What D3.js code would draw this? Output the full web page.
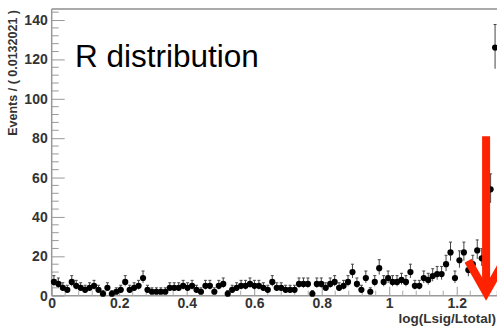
<!DOCTYPE html>
<html>
<head>
<meta charset="utf-8">
<script src="https://cdn.jsdelivr.net/npm/d3@7"></script>
<style>
  body { margin: 0; background: #fff; }
  text { font-family: "Liberation Sans", Arial, sans-serif; }
</style>
</head>
<body>
<script>
// 100 bins of width 0.0132021 on log(Lsig/Ltotal)
const binWidth = 0.0132021;
const counts = [
  7, 6, 4, 3, 7, 5, 4, 3, 4, 5, 3, 1, 4, 1, 2, 3, 7, 3, 4, 5, 9, 3, 2, 2, 2, 2,
  4, 4, 4, 5, 4, 5, 3, 2, 5, 5, 2, 5, 6, 1, 3, 4, 5, 5, 6, 5, 5, 4, 3, 7, 4, 4,
  3, 3, 3, 6, 6, 6, 1, 6, 6, 4, 6, 7, 4, 5, 7, 12, 6, 3, 9, 2, 7, 14, 7, 9, 7, 7,
  8, 7, 12, 5, 5, 9, 8, 10, 11, 11, 16, 22, 9, 18, 22, 13, 16, 23, 19, 25, 54, 126
];
const xTicks = [0, 0.2, 0.4, 0.6, 0.8, 1, 1.2];
const yTicks = [0, 20, 40, 60, 80, 100, 120, 140];
const arrowAt = { x: 1.287, top: 81 };

const w = 497, h = 328;
const padLeft = 51.7, padRight = 497.3, padTop = 9, padBottom = 295.7;

const svg = d3.select("body").append("svg")
    .attr("width", w)
    .attr("height", h);

const xScale = d3.scaleLinear()
    .domain([0, binWidth * counts.length])
    .range([padLeft, padRight]);

const yScale = d3.scaleLinear()
    .domain([0, 145.6])
    .range([padBottom, padTop]);

// frame
svg.append("line")
    .attr("x1", padLeft).attr("x2", w)
    .attr("y1", padTop).attr("y2", padTop)
    .attr("stroke", "#aaa").attr("stroke-width", 2);

// y axis, ticks pointing into the plot
const yAxis = d3.axisRight(yScale)
    .tickValues(yTicks)
    .tickSize(13)
    .tickFormat(d3.format("d"));
const gy = svg.append("g")
    .attr("transform", "translate(" + padLeft + ",0)")
    .call(yAxis);
gy.select(".domain").attr("stroke", "#999").attr("stroke-width", 1.5)
    .attr("d", "M0," + padTop + "V" + padBottom);
gy.selectAll(".tick line").attr("stroke", "#999");
gy.selectAll(".tick text")
    .attr("x", -4)
    .attr("text-anchor", "end")
    .attr("font-size", 14)
    .attr("font-weight", "bold")
    .attr("fill", "#333");

const yMinor = d3.range(0, 145, 4).filter(v => v % 20 !== 0);
svg.append("g").selectAll("line")
    .data(yMinor)
    .enter()
    .append("line")
    .attr("x1", padLeft).attr("x2", padLeft + 7)
    .attr("y1", d => yScale(d)).attr("y2", d => yScale(d))
    .attr("stroke", "#999");

// x axis, ticks pointing up
const xAxis = d3.axisTop(xScale)
    .tickValues(xTicks)
    .tickSize(9)
    .tickFormat(d => String(d));
const gx = svg.append("g")
    .attr("transform", "translate(0," + padBottom + ")")
    .call(xAxis);
gx.select(".domain").attr("stroke", "#999").attr("stroke-width", 1.5)
    .attr("d", "M" + padLeft + ",0H" + w);
gx.selectAll(".tick line").attr("stroke", "#999");
gx.selectAll(".tick text")
    .attr("y", 12.5)
    .attr("dy", "0")
    .attr("text-anchor", "middle")
    .attr("font-size", 14)
    .attr("font-weight", "bold")
    .attr("fill", "#333");

const xMinor = d3.range(0, 1.33, 0.04).filter(v => Math.abs(v / 0.2 - Math.round(v / 0.2)) > 0.01);
svg.append("g").selectAll("line")
    .data(xMinor)
    .enter()
    .append("line")
    .attr("x1", d => xScale(d)).attr("x2", d => xScale(d))
    .attr("y1", padBottom).attr("y2", padBottom - 5)
    .attr("stroke", "#aaa");

// axis titles
svg.append("text")
    .attr("transform", "translate(17,10) rotate(-90)")
    .attr("text-anchor", "end")
    .attr("font-size", 12.5)
    .attr("font-weight", "bold")
    .attr("fill", "#333")
    .text("Events / ( 0.0132021 )");

svg.append("text")
    .attr("x", 496)
    .attr("y", 323)
    .attr("text-anchor", "end")
    .attr("font-size", 13.5)
    .attr("font-weight", "bold")
    .attr("fill", "#333")
    .text("log(Lsig/Ltotal)");

// data points with Poisson error bars
const pts = counts.map((c, i) => ({
    x: (i + 0.5) * binWidth,
    y: c,
    lo: c - (Math.sqrt(c + 0.25) - 0.5),
    hi: c + (Math.sqrt(c + 0.25) + 0.5)
}));

const bars = svg.append("g")
    .attr("stroke", "#444")
    .attr("stroke-width", 1);

bars.selectAll("line.err")
    .data(pts)
    .enter()
    .append("line")
    .attr("class", "err")
    .attr("x1", d => xScale(d.x)).attr("x2", d => xScale(d.x))
    .attr("y1", d => yScale(Math.max(0, d.lo))).attr("y2", d => yScale(d.hi));

bars.selectAll("line.cap")
    .data(pts)
    .enter()
    .append("line")
    .attr("class", "cap")
    .attr("x1", d => xScale(d.x) - 1.5).attr("x2", d => xScale(d.x) + 1.5)
    .attr("y1", d => yScale(d.hi)).attr("y2", d => yScale(d.hi));

svg.append("g").selectAll("circle")
    .data(pts)
    .enter()
    .append("circle")
    .attr("cx", d => xScale(d.x))
    .attr("cy", d => yScale(d.y))
    .attr("r", 3.1)
    .attr("fill", "#000");

// title
svg.append("text")
    .attr("x", 75)
    .attr("y", 67)
    .attr("font-size", 31.5)
    .attr("fill", "#000")
    .text("R distribution");

// red cut arrow
const ax = xScale(arrowAt.x);
const tipY = yScale(0);
const arrow = svg.append("g")
    .attr("stroke", "#ff2200")
    .attr("stroke-width", 8)
    .attr("fill", "none");
arrow.append("line")
    .attr("x1", ax).attr("x2", ax)
    .attr("y1", yScale(arrowAt.top)).attr("y2", tipY - 4);
arrow.append("path")
    .attr("stroke-linejoin", "miter")
    .attr("d", "M" + (ax - 18) + "," + (tipY - 35) + "L" + ax + "," + (tipY - 3) + "L" + (ax + 18) + "," + (tipY - 35));
</script>
</body>
</html>
